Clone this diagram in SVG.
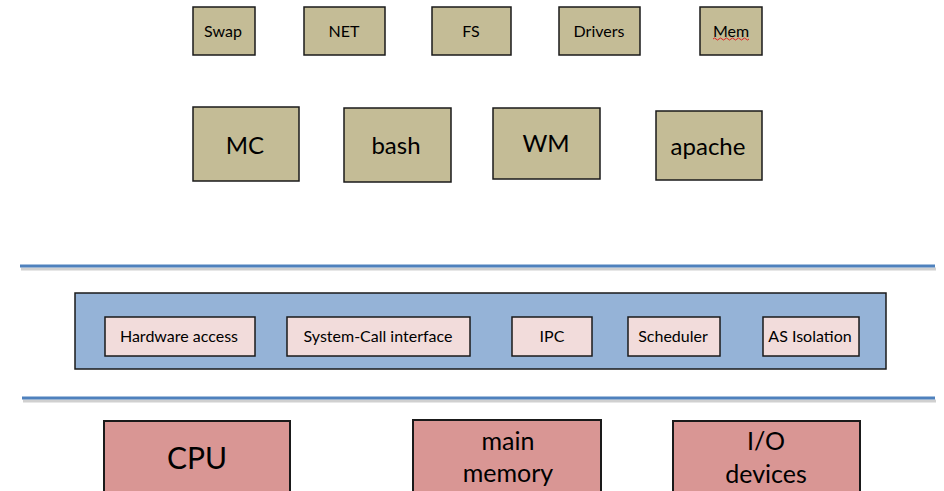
<svg xmlns="http://www.w3.org/2000/svg" width="944" height="491" viewBox="0 0 944 491">
  <style>
    .mod { fill: #C4BC96; stroke: #1a1a1a; stroke-width: 1.5; }
    .core { fill: #95B3D7; stroke: #1a1a1a; stroke-width: 1.5; }
    .svc { fill: #F2DCDB; stroke: #1a1a1a; stroke-width: 1.5; }
    .hw { fill: #D99694; stroke: #1a1a1a; stroke-width: 2; }
    .sep { stroke: #4F81BD; stroke-width: 3; }
    .sep-shadow { stroke: #d0d0d0; stroke-width: 3; }
    text { font-family: Lato, "Open Sans", "Liberation Sans", sans-serif; fill: #000; text-anchor: middle; dominant-baseline: central; }
    .s { font-size: 16px; }
    .m { font-size: 24px; }
    .i { font-size: 16px; }
    .l { font-size: 30px; }
    .h { font-size: 25px; }
  </style>

  <!-- kernel modules -->
  <g id="swap"><rect class="mod" x="193" y="7" width="62" height="48"/><text class="s" x="223" y="30">Swap</text></g>
  <g id="net"><rect class="mod" x="304" y="7" width="81" height="48"/><text class="s" x="344" y="30">NET</text></g>
  <g id="fs"><rect class="mod" x="432" y="7" width="79" height="48"/><text class="s" x="471" y="30">FS</text></g>
  <g id="drivers"><rect class="mod" x="559" y="7" width="81" height="48"/><text class="s" x="599" y="30">Drivers</text></g>
  <g id="mem"><rect class="mod" x="700" y="7" width="62" height="48"/><text class="s" x="731" y="30">Mem</text>
    <path d="M713 39 q1.5 -2 3 0 t3 0 t3 0 t3 0 t3 0 t3 0 t3 0 t3 0 t3 0 t3 0 t3 0 t3 0" fill="none" stroke="#e02020" stroke-width="1"/></g>

  <!-- user-space programs -->
  <g id="mc"><rect class="mod" x="193" y="107" width="106" height="74"/><text class="m" x="245" y="144">MC</text></g>
  <g id="bash"><rect class="mod" x="344" y="108" width="107" height="74"/><text class="m" x="396" y="144">bash</text></g>
  <g id="wm"><rect class="mod" x="493" y="108" width="107" height="71"/><text class="m" x="546" y="142">WM</text></g>
  <g id="apache"><rect class="mod" x="656" y="111" width="106" height="69"/><text class="m" x="708" y="145">apache</text></g>

  <!-- layer separators -->
  <g id="connectors">
    <line class="sep-shadow" x1="21" y1="269" x2="936" y2="269"/>
    <line class="sep" x1="20" y1="266" x2="935" y2="266"/>
    <line class="sep-shadow" x1="23" y1="401" x2="936" y2="401"/>
    <line class="sep" x1="22" y1="398" x2="935" y2="398"/>
  </g>

  <!-- microkernel -->
  <g id="kernel"><rect class="core" x="75" y="293" width="811" height="76"/></g>
  <g id="hardware-access"><rect class="svc" x="105" y="317" width="150" height="39"/><text class="i" x="179" y="335">Hardware access</text></g>
  <g id="syscall"><rect class="svc" x="287" y="317" width="183" height="39"/><text class="i" x="378" y="335">System-Call interface</text></g>
  <g id="ipc"><rect class="svc" x="512" y="317" width="80" height="39"/><text class="i" x="552" y="335">IPC</text></g>
  <g id="scheduler"><rect class="svc" x="628" y="317" width="92" height="39"/><text class="i" x="673" y="335">Scheduler</text></g>
  <g id="as-isolation"><rect class="svc" x="763" y="317" width="96" height="39"/><text class="i" x="810" y="335">AS Isolation</text></g>

  <!-- hardware -->
  <g id="cpu"><rect class="hw" x="104" y="421" width="186" height="80"/><text class="l" x="197" y="457">CPU</text></g>
  <g id="main-memory"><rect class="hw" x="413" y="420" width="188" height="80"/><text class="h" x="508" y="440">main</text><text class="h" x="508" y="472">memory</text></g>
  <g id="io-devices"><rect class="hw" x="673" y="421" width="187" height="80"/><text class="h" x="766" y="440">I/O</text><text class="h" x="766" y="473">devices</text></g>
</svg>
